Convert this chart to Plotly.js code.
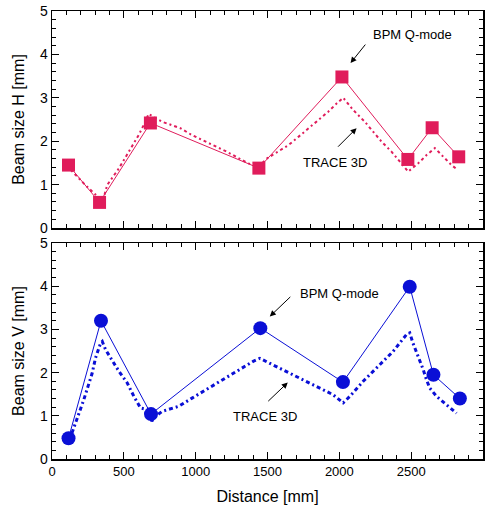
<!DOCTYPE html>
<html>
<head>
<meta charset="utf-8">
<script src="https://cdn.plot.ly/plotly-3.0.1.min.js"></script>
<style>html,body{margin:0;padding:0;background:#fff}#chart{width:494px;height:507px}</style>
</head>
<body>
<div id="chart"></div>
<script>
// BPM Q-mode measurements, horizontal
const bpmHx = [115, 331, 685, 1440, 2018, 2477, 2646, 2831];
const bpmHy = [1.45, 0.59, 2.42, 1.38, 3.48, 1.58, 2.31, 1.64];
// TRACE 3D, horizontal
const traceHx = [115, 130, 232, 267, 330, 345, 360, 384, 465, 500, 558, 603, 650, 672, 706, 765, 834, 893, 975, 1068, 1215, 1365, 1440, 1495, 1577, 1646, 1715, 1796, 1865, 1923, 1981, 2027, 2096, 2177, 2235, 2294, 2363, 2421, 2479, 2549, 2607, 2665, 2723, 2781, 2820];
const traceHy = [1.45, 1.34, 0.99, 0.88, 0.68, 0.64, 0.70, 0.99, 1.37, 1.57, 1.91, 2.14, 2.45, 2.63, 2.56, 2.45, 2.37, 2.30, 2.14, 1.99, 1.76, 1.49, 1.42, 1.60, 1.76, 1.91, 2.10, 2.33, 2.53, 2.68, 2.87, 3.00, 2.72, 2.45, 2.22, 1.99, 1.76, 1.53, 1.30, 1.49, 1.68, 1.84, 1.64, 1.45, 1.35];
// BPM Q-mode measurements, vertical
const bpmVx = [115, 341, 689, 1450, 2025, 2490, 2655, 2839];
const bpmVy = [0.48, 3.20, 1.04, 3.03, 1.78, 3.99, 1.95, 1.40];
// TRACE 3D, vertical
const traceVx = [139, 174, 221, 279, 303, 338, 350, 373, 420, 466, 524, 570, 616, 672, 695, 705, 765, 882, 975, 1090, 1190, 1307, 1400, 1447, 1516, 1609, 1725, 1840, 1956, 2027, 2073, 2166, 2282, 2374, 2467, 2490, 2513, 2549, 2584, 2607, 2630, 2677, 2746, 2816];
const traceVy = [0.60, 0.91, 1.37, 1.98, 2.34, 2.68, 2.72, 2.53, 2.26, 2.03, 1.76, 1.45, 1.18, 1.14, 0.87, 0.95, 1.10, 1.22, 1.41, 1.64, 1.84, 2.07, 2.26, 2.33, 2.22, 2.07, 1.87, 1.68, 1.49, 1.30, 1.45, 1.80, 2.18, 2.49, 2.88, 2.92, 2.68, 2.38, 2.07, 1.83, 1.64, 1.45, 1.26, 1.06];

const xTickVals = [0, 500, 1000, 1500, 2000, 2500, 3000];
const yTickVals = [0, 1, 2, 3, 4, 5];
const labels = {bpm: 'BPM Q-mode', trace: 'TRACE 3D', yH: 'Beam size H [mm]', yV: 'Beam size V [mm]', x: 'Distance [mm]'};

const RED = '#E01C5B';
const BLUE = '#0A0FD6';
const FONT = 'Liberation Sans, Arial, Helvetica, sans-serif';

const data = [
  {x: traceHx, y: traceHy, xaxis: 'x2', yaxis: 'y2', mode: 'lines', line: {color: RED, width: 2, dash: '3px,3px,2px,3px'}, hoverinfo: 'skip'},
  {x: bpmHx, y: bpmHy, xaxis: 'x2', yaxis: 'y2', mode: 'lines+markers', line: {color: RED, width: 1}, marker: {symbol: 'square', size: 13, color: RED}},
  {x: traceVx, y: traceVy, xaxis: 'x', yaxis: 'y', mode: 'lines', line: {color: BLUE, width: 3, dash: '4px,3px,2px,3px'}, hoverinfo: 'skip'},
  {x: bpmVx, y: bpmVy, xaxis: 'x', yaxis: 'y', mode: 'lines+markers', line: {color: BLUE, width: 1}, marker: {symbol: 'circle', size: 14, color: BLUE}}
];

function xAxis(showLabels, anchor, domainTitle) {
  const a = {
    range: [0, 3000], tickvals: xTickVals, ticks: 'inside', ticklen: 7, tickwidth: 1, tickcolor: '#000',
    minor: {dtick: 100, ticks: 'inside', ticklen: 4, tickwidth: 1, tickcolor: '#000'},
    showline: true, linecolor: '#000', linewidth: 1.5, mirror: 'ticks', showgrid: false, zeroline: false,
    showticklabels: showLabels, tickfont: {family: FONT, size: 13, color: '#000'}, anchor: anchor
  };
  if (domainTitle) a.title = {text: domainTitle, font: {family: FONT, size: 16, color: '#000'}, standoff: 12};
  return a;
}
function yAxis(domain, anchor, title) {
  return {
    domain: domain, range: [0, 5], tickvals: yTickVals, ticks: 'inside', ticklen: 7, tickwidth: 1, tickcolor: '#000',
    minor: {dtick: 0.2, ticks: 'inside', ticklen: 4, tickwidth: 1, tickcolor: '#000'},
    showline: true, linecolor: '#000', linewidth: 1.5, mirror: 'ticks', showgrid: false, zeroline: false,
    tickfont: {family: FONT, size: 14, color: '#000'}, anchor: anchor,
    title: {text: title, font: {family: FONT, size: 16, color: '#000'}, standoff: 11}
  };
}

const annFont = {family: FONT, size: 13, color: '#000'};
function txt(xref, yref, x, y, t) {
  return {xref: xref, yref: yref, x: x, y: y, text: t, showarrow: false, font: annFont, xanchor: 'center', yanchor: 'middle'};
}
function arr(xref, yref, x, y, ax, ay) {
  return {xref: xref, yref: yref, x: x, y: y, ax: ax, ay: ay, text: '', showarrow: true, arrowhead: 2, arrowsize: 1.2, arrowwidth: 1, arrowcolor: '#000'};
}

const layout = {
  width: 494, height: 507,
  margin: {l: 52, r: 11, t: 11, b: 48},
  paper_bgcolor: '#fff', plot_bgcolor: '#fff',
  showlegend: false,
  font: {family: FONT, color: '#000'},
  xaxis: xAxis(true, 'y', labels.x),
  yaxis: yAxis([0, 0.482], 'x', labels.yV),
  xaxis2: xAxis(false, 'y2', null),
  yaxis2: yAxis([0.5156, 1], 'x2', labels.yH),
  annotations: [
    txt('x2', 'y2', 2509, 4.47, labels.bpm),
    arr('x2', 'y2', 2078, 3.80, 16, -20),
    txt('x2', 'y2', 1967, 1.52, labels.trace),
    arr('x2', 'y2', 2120, 2.30, -20, 20),
    txt('x', 'y', 2002, 3.83, labels.bpm),
    arr('x', 'y', 1516, 3.30, 22, -21),
    txt('x', 'y', 1481, 0.98, labels.trace),
    arr('x', 'y', 1641, 1.77, -21, 20)
  ]
};

Plotly.newPlot('chart', data, layout, {displayModeBar: false, staticPlot: true});
</script>
</body>
</html>
